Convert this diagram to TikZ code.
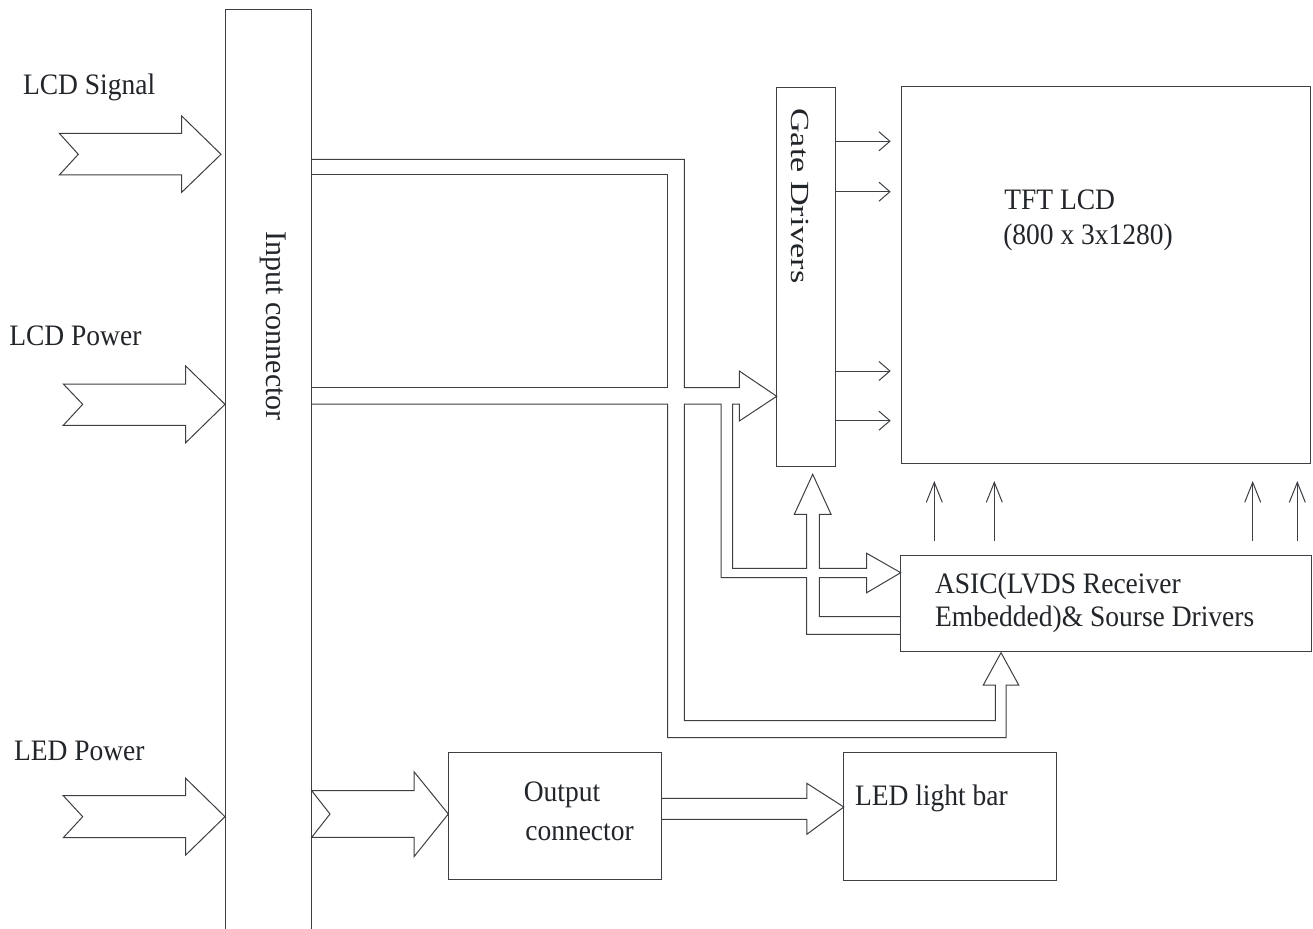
\documentclass[tikz,border=0pt]{standalone}
\usepackage{fontspec}
\setmainfont{Liberation Serif}
\usetikzlibrary{arrows.meta}
\definecolor{ln}{HTML}{3C3F43}
\definecolor{tx}{HTML}{222529}
\newcommand\tallt[1]{\scalebox{1}[1.08]{#1}}
\begin{document}
\begin{tikzpicture}[x=1pt,y=-1pt,
  box/.style={draw=ln, line width=1pt, inner sep=0pt, outer sep=0pt, anchor=north west},
  lbl/.style={text=tx, inner sep=0pt, outer sep=0pt, anchor=base west, font=\fontsize{27.5}{33}\selectfont},
  pipe/.style={draw=ln, line width=1pt, line join=miter},
  garrow/.style={draw=ln, line width=1pt, -{Straight Barb[length=11pt,width=19pt]}},
  uarrow/.style={draw=ln, line width=1pt, -{Straight Barb[length=20pt,width=16pt]}}]
\useasboundingbox (0,0) rectangle (1313,928);
\clip (0,0) rectangle (1313,928);
\fill[white] (0,0) rectangle (1313,928);
% boxes
\node[box, minimum width=86pt, minimum height=940pt] (ic) at (225.7,10) {};
\node[box, minimum width=59pt, minimum height=379.4pt] (gd) at (776.7,87.3) {};
\node[box, minimum width=409.7pt, minimum height=376.3pt] (tft) at (901,87) {};
\node[box, minimum width=411pt, minimum height=96pt] (asic) at (900.7,555.3) {};
\node[box, minimum width=213.5pt, minimum height=126.7pt] (oc) at (448.3,752.3) {};
\node[box, minimum width=212.9pt, minimum height=127.7pt] (led) at (843.8,752.3) {};
% labels
\node[lbl] (tsig) at (23,95) {\tallt{LCD Signal}};
\node[lbl] (tpow) at (9.3,345) {\tallt{LCD Power}};
\node[lbl] (tled) at (14,760.7) {\tallt{LED Power}};
\node[lbl] (ttft1) at (1004.3,209) {\tallt{TFT LCD}};
\node[lbl] (ttft2) at (1003.3,244) {\tallt{(800 x 3x1280)}};
\node[lbl] (tasic1) at (935,593.3) {\tallt{ASIC(LVDS Receiver}};
\node[lbl] (tasic2) at (935,626.7) {\tallt{Embedded)\& Sourse Drivers}};
\node[lbl] (toc1) at (523.8,801) {\tallt{Output}};
\node[lbl] (toc2) at (525.3,840) {\tallt{connector}};
\node[lbl] (tledb) at (855,805.7) {\tallt{LED light bar}};
\node[lbl, rotate=-90, font=\fontsize{30}{36}\selectfont] (tic) at (266.7,231.7) {Input connector};
\node[lbl, rotate=-90] (tgd) at (791,108.3) {\scalebox{1.24}[0.95]{Gate Drivers}};
% input hollow arrows
\draw[pipe] (59.3,133.3) -- (181.7,133.3) -- (181.7,116) -- (221,154.3) -- (181.7,192.3) -- (181.7,175) -- (59.3,175) -- (78.3,154.3) -- cycle;
\draw[pipe] (63.3,384) -- (185.7,384) -- (185.7,366) -- (225,404.3) -- (185.7,442.7) -- (185.7,425.3) -- (63.3,425.3) -- (82.7,404.3) -- cycle;
\draw[pipe] (63.3,795.7) -- (185.7,795.7) -- (185.7,778.3) -- (225,816.7) -- (185.7,855) -- (185.7,837.7) -- (63.3,837.7) -- (82.7,816.7) -- cycle;
% output arrows
\draw[pipe] (311.7,790.7) -- (414,790.7) -- (414,771.7) -- (448.3,814) -- (414,856.7) -- (414,837.3) -- (311.7,837.3) -- (330,814) -- cycle;
\draw[pipe] (661.8,798.3) -- (806.8,798.3) -- (806.8,783.3) -- (843.8,807) -- (806.8,834.3) -- (806.8,819.3) -- (661.8,819.3);
% signal pipes
\draw[pipe] (311.7,159.3) -- (684.3,159.3) -- (684.3,387.7) -- (739.3,387.7) -- (739.3,371) -- (776.7,396.3) -- (739.3,421) -- (739.3,404) -- (732.7,404) -- (732.7,568.3) -- (806.7,568.3) -- (806.7,514.3) -- (794.3,514.3) -- (812.7,474.3) -- (831,514.3) -- (819.3,514.3) -- (819.3,568.3) -- (866.7,568.3) -- (866.7,553.3) -- (900.7,572.7) -- (866.7,592.7) -- (866.7,577.7) -- (819.3,577.7) -- (819.3,616.7) -- (900.7,616.7);
\draw[pipe] (900.7,634.3) -- (806.7,634.3) -- (806.7,577.7) -- (721,577.7) -- (721,404) -- (684.3,404) -- (684.3,720.7) -- (995.3,720.7) -- (995.3,685) -- (983.3,685) -- (1001,652.7) -- (1018.7,685) -- (1006,685) -- (1006,737.7) -- (667.7,737.7) -- (667.7,404) -- (311.7,404);
\draw[pipe] (311.7,174.3) -- (667.7,174.3) -- (667.7,387.7) -- (311.7,387.7);
% gate driver outputs
\foreach \y in {141.3,191.7,371,420.7} \draw[garrow] (835.7,\y) -- (890.7,\y);
% source driver outputs
\foreach \x in {934.3,994.3,1252.7,1297.3} \draw[uarrow] (\x,541) -- (\x,481);
\end{tikzpicture}
\end{document}
